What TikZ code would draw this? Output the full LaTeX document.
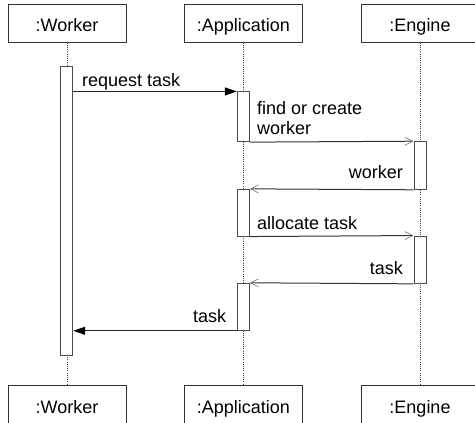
\documentclass[tikz,border=0pt]{standalone}
\usepackage{fontspec}
\setmainfont{Liberation Sans}
\usepackage{tikz}
\usetikzlibrary{arrows.meta}
\tikzstyle{actor}=[rectangle,draw=black!80,fill=white,inner sep=0mm,minimum width=118pt,minimum height=38pt,text height=17.4pt,text depth=0pt,font=\fontsize{18}{20}\selectfont]
\tikzstyle{act}=[rectangle,draw=black!70,fill=white,inner sep=0mm,minimum width=12pt]
\tikzstyle{life}=[black!75,line width=0.8pt,dash pattern=on 1pt off 1.2pt]
\tikzstyle{call}=[draw=black!85,-{Triangle[length=12pt,width=8pt,color=black]}]
\tikzstyle{reply}=[draw=black!80,-{Straight Barb[length=8pt,width=8pt,color=black!55,line width=0.6pt]}]
\tikzstyle{lbl}=[inner sep=0mm,font=\fontsize{18}{20}\selectfont]
\tikzset{every picture/.style={
    line width=1pt
  }
}

\begin{document}
\begin{tikzpicture}[x=1pt,y=-1pt]
        \useasboundingbox (0,0) rectangle (475,423);
        \node[actor] at (67,23) (wT) {:Worker};
        \node[actor] at (243.3,23) (aT) {:Application};
        \node[actor] at (420,23) (eT) {:Engine};
        \node[actor] at (67,404.7) (wB) {:Worker};
        \node[actor] at (243.3,404.7) (aB) {:Application};
        \node[actor] at (420,404.7) (eB) {:Engine};
        \draw[life] (wT) -- (wB);
        \draw[life] (aT) -- (aB);
        \draw[life] (eT) -- (eB);
        \node[act,minimum height=289.3pt] at (66.7,211.3) (wA) {};
        \node[act,minimum height=49.7pt] at (243.3,116.8) (aA1) {};
        \node[act,minimum height=47.6pt] at (420,165.5) (eA1) {};
        \node[act,minimum height=46.7pt] at (243.3,212.7) (aA2) {};
        \node[act,minimum height=47.3pt] at (420,259.7) (eA2) {};
        \node[act,minimum height=47pt] at (243.3,306.8) (aA3) {};
        \draw[call] (wA.east |- aA1.north west) -- (aA1.north west);
        \draw[reply] (aA1.south east) -- (eA1.north west);
        \draw[reply] (eA1.south west) -- (aA2.north east);
        \draw[reply] (aA2.south east) -- (eA2.north west);
        \draw[reply] (eA2.south west) -- (aA3.north east);
        \draw[call] (aA3.south west) -- (wA.east |- aA3.south west);
        \node[lbl,anchor=base west] at (81.7,86) (l1) {request task};
        \node[lbl,anchor=base west,align=left] at (256.7,134.3) (l2) {find or create\\worker};
        \node[lbl,anchor=base east] at (403.3,178) (l3) {worker};
        \node[lbl,anchor=base west] at (256.7,229.3) (l4) {allocate task};
        \node[lbl,anchor=base east] at (403.3,274) (l5) {task};
        \node[lbl,anchor=base east] at (226.7,322) (l6) {task};
      \end{tikzpicture}
\end{document}
